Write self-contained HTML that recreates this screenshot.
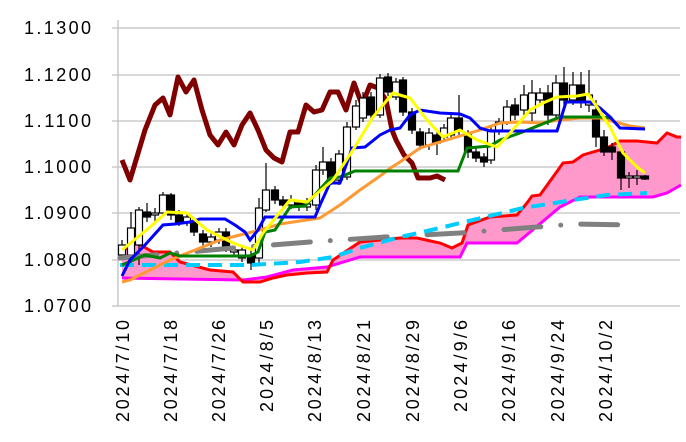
<!DOCTYPE html>
<html><head><meta charset="utf-8"><style>
html,body{margin:0;padding:0;background:#fff;}
svg{display:block;}
text{font-family:"Liberation Sans","Noto Sans CJK JP",sans-serif;fill:#000;}
</style></head><body>
<svg width="686" height="442" viewBox="0 0 686 442" xmlns="http://www.w3.org/2000/svg">
<g stroke="#c0c0c0" stroke-width="1.3">
<line x1="112" y1="28" x2="680" y2="28"/>
<line x1="112" y1="75" x2="680" y2="75"/>
<line x1="112" y1="121" x2="680" y2="121"/>
<line x1="112" y1="167" x2="680" y2="167"/>
<line x1="112" y1="213" x2="680" y2="213"/>
<line x1="112" y1="260" x2="680" y2="260"/>
<line x1="112" y1="306" x2="680" y2="306"/>
<line x1="118" y1="20" x2="118" y2="306"/>
</g>
<g font-size="18" text-anchor="end">
<text x="91" y="34" textLength="67">1.1300</text>
<text x="91" y="81" textLength="67">1.1200</text>
<text x="91" y="127" textLength="67">1.1100</text>
<text x="91" y="173" textLength="67">1.1000</text>
<text x="91" y="219" textLength="67">1.0900</text>
<text x="91" y="266" textLength="67">1.0800</text>
<text x="91" y="312" textLength="67">1.0700</text>
</g>
<g font-size="18" text-anchor="end">
<text transform="translate(129,320) rotate(-90)" textLength="102">2024/7/10</text>
<text transform="translate(177,320) rotate(-90)" textLength="102">2024/7/18</text>
<text transform="translate(225,320) rotate(-90)" textLength="102">2024/7/26</text>
<text transform="translate(273,320) rotate(-90)" textLength="92">2024/8/5</text>
<text transform="translate(321,320) rotate(-90)" textLength="102">2024/8/13</text>
<text transform="translate(370,320) rotate(-90)" textLength="102">2024/8/21</text>
<text transform="translate(419,320) rotate(-90)" textLength="102">2024/8/29</text>
<text transform="translate(467,320) rotate(-90)" textLength="92">2024/9/6</text>
<text transform="translate(515,320) rotate(-90)" textLength="102">2024/9/16</text>
<text transform="translate(564,320) rotate(-90)" textLength="102">2024/9/24</text>
<text transform="translate(612,320) rotate(-90)" textLength="102">2024/10/2</text>
</g>
<!-- cloud -->
<polygon fill="#ff99cc" points="122,250 137,243 153,252 170,252 180,262 210,270 233,272 243,282 260,282 273,278 287,275 307,273 327,272 333,260 360,242 400,238 417,238 440,243 452,248 462,243 468,225 490,217 517,215 527,203 532,196 540,195 553,177 563,163 573,162 583,155 593,152 607,148 620,141 637,141 657,143 667,133 677,137 681,137 681,185 667,193 653,197 580,197 560,207 517,243 467,243 460,257 400,257 360,257 327,267 293,270 267,277 243,280 122,278"/>
<polyline fill="none" stroke="#ff00ff" stroke-width="3" points="122,278 243,280 267,277 293,270 327,267 360,257 400,257 460,257 467,243 517,243 560,207 580,197 653,197 667,193 681,185"/>
<polyline fill="none" stroke="#ff0000" stroke-width="3" points="122,250 137,243 153,252 170,252 180,262 210,270 233,272 243,282 260,282 273,278 287,275 307,273 327,272 333,260 360,242 400,238 417,238 440,243 452,248 462,243 468,225 490,217 517,215 527,203 532,196 540,195 553,177 563,163 573,162 583,155 593,152 607,148 620,141 637,141 657,143 667,133 677,137 681,137"/>
<!-- chikou -->
<polyline fill="none" stroke="#800000" stroke-width="5" stroke-linejoin="round" points="122,160 130,180 145,130 155,105 163,98 170,115 178,77 186,92 194,80 202,110 210,135 218,145 226,132 234,145 242,125 250,113 258,130 266,150 274,158 282,162 290,132 298,132 306,105 314,112 322,110 330,92 338,92 346,110 354,83 362,105 370,85 378,88 386,100 392,130 396,140 404,155 412,163 418,178 430,178 437,176 445,180"/>
<!-- candles -->
<g stroke="#000" stroke-width="1">
<g id="c"></g>
</g>
<g stroke="#000" stroke-width="1.2">
<line x1="122" y1="240" x2="122" y2="260"/><rect x="118.5" y="245" width="7" height="10" fill="#fff"/>
<line x1="131" y1="212" x2="131" y2="265"/><rect x="127.5" y="228" width="7" height="27" fill="#fff"/>
<line x1="139" y1="207" x2="139" y2="265"/><rect x="135.5" y="210" width="7" height="35" fill="#fff"/>
<line x1="147" y1="203" x2="147" y2="222"/><rect x="143.5" y="212" width="7" height="5" fill="#000"/>
<line x1="155" y1="208" x2="155" y2="222"/><rect x="151.5" y="213" width="7" height="2" fill="#fff"/>
<line x1="163" y1="192" x2="163" y2="217"/><rect x="159.5" y="195" width="7" height="18" fill="#fff"/>
<line x1="171" y1="193" x2="171" y2="220"/><rect x="167.5" y="195" width="7" height="20" fill="#000"/>
<line x1="179" y1="210" x2="179" y2="226"/><rect x="175.5" y="215" width="7" height="7" fill="#000"/>
<line x1="187" y1="213" x2="187" y2="226"/><rect x="183.5" y="217" width="7" height="5" fill="#fff"/>
<line x1="194" y1="218" x2="194" y2="236"/><rect x="190.5" y="222" width="7" height="10" fill="#000"/>
<line x1="203" y1="230" x2="203" y2="246"/><rect x="199.5" y="234" width="7" height="8" fill="#000"/>
<line x1="211" y1="232" x2="211" y2="247"/><rect x="207.5" y="237" width="7" height="5" fill="#fff"/>
<line x1="219" y1="228" x2="219" y2="244"/><rect x="215.5" y="232" width="7" height="8" fill="#fff"/>
<line x1="226" y1="228" x2="226" y2="252"/><rect x="222.5" y="232" width="7" height="16" fill="#000"/>
<line x1="234" y1="246" x2="234" y2="256"/><rect x="230.5" y="250" width="7" height="2" fill="#fff"/>
<line x1="242" y1="246" x2="242" y2="262"/><rect x="238.5" y="250" width="7" height="8" fill="#fff"/>
<line x1="251" y1="248" x2="251" y2="270"/><rect x="247.5" y="255" width="7" height="8" fill="#000"/>
<line x1="259" y1="198" x2="259" y2="265"/><rect x="255.5" y="208" width="7" height="50" fill="#fff"/>
<line x1="266" y1="163" x2="266" y2="212"/><rect x="262.5" y="190" width="7" height="20" fill="#fff"/>
<line x1="275" y1="186" x2="275" y2="204"/><rect x="271.5" y="190" width="7" height="10" fill="#000"/>
<line x1="283" y1="196" x2="283" y2="209"/><rect x="279.5" y="200" width="7" height="5" fill="#000"/>
<line x1="291" y1="195" x2="291" y2="209"/><rect x="287.5" y="200" width="7" height="5" fill="#fff"/>
<line x1="299" y1="200" x2="299" y2="211"/><rect x="295.5" y="203" width="7" height="3" fill="#000"/>
<line x1="307" y1="198" x2="307" y2="211"/><rect x="303.5" y="204" width="7" height="3" fill="#fff"/>
<line x1="316" y1="165" x2="316" y2="210"/><rect x="312.5" y="170" width="7" height="35" fill="#fff"/>
<line x1="323" y1="147" x2="323" y2="175"/><rect x="319.5" y="162" width="7" height="8" fill="#fff"/>
<line x1="331" y1="158" x2="331" y2="185"/><rect x="327.5" y="162" width="7" height="19" fill="#000"/>
<line x1="339" y1="150" x2="339" y2="185"/><rect x="335.5" y="154" width="7" height="26" fill="#fff"/>
<line x1="347" y1="122" x2="347" y2="180"/><rect x="343.5" y="127" width="7" height="50" fill="#fff"/>
<line x1="356" y1="100" x2="356" y2="130"/><rect x="352.5" y="106" width="7" height="21" fill="#fff"/>
<line x1="363" y1="92" x2="363" y2="122"/><rect x="359.5" y="98" width="7" height="20" fill="#fff"/>
<line x1="371" y1="92" x2="371" y2="118"/><rect x="367.5" y="97" width="7" height="18" fill="#000"/>
<line x1="380" y1="74" x2="380" y2="118"/><rect x="376.5" y="78" width="7" height="37" fill="#fff"/>
<line x1="388" y1="73" x2="388" y2="96"/><rect x="384.5" y="77" width="7" height="15" fill="#000"/>
<line x1="396" y1="78" x2="396" y2="100"/><rect x="392.5" y="82" width="7" height="15" fill="#fff"/>
<line x1="403" y1="77" x2="403" y2="116"/><rect x="399.5" y="80" width="7" height="32" fill="#000"/>
<line x1="412" y1="108" x2="412" y2="134"/><rect x="408.5" y="112" width="7" height="18" fill="#000"/>
<line x1="420" y1="128" x2="420" y2="150"/><rect x="416.5" y="132" width="7" height="13" fill="#000"/>
<line x1="429" y1="128" x2="429" y2="150"/><rect x="425.5" y="133" width="7" height="12" fill="#fff"/>
<line x1="437" y1="130" x2="437" y2="155"/><rect x="433.5" y="135" width="7" height="8" fill="#000"/>
<line x1="444" y1="124" x2="444" y2="142"/><rect x="440.5" y="128" width="7" height="9" fill="#fff"/>
<line x1="451" y1="112" x2="451" y2="140"/><rect x="447.5" y="118" width="7" height="17" fill="#fff"/>
<line x1="459" y1="95" x2="459" y2="135"/><rect x="455.5" y="118" width="7" height="12" fill="#000"/>
<line x1="468" y1="130" x2="468" y2="158"/><rect x="464.5" y="135" width="7" height="17" fill="#000"/>
<line x1="476" y1="148" x2="476" y2="162"/><rect x="472.5" y="152" width="7" height="6" fill="#000"/>
<line x1="484" y1="153" x2="484" y2="167"/><rect x="480.5" y="157" width="7" height="5" fill="#000"/>
<line x1="491" y1="125" x2="491" y2="164"/><rect x="487.5" y="130" width="7" height="30" fill="#fff"/>
<line x1="499" y1="118" x2="499" y2="135"/><rect x="495.5" y="122" width="7" height="8" fill="#fff"/>
<line x1="507" y1="100" x2="507" y2="125"/><rect x="503.5" y="107" width="7" height="15" fill="#fff"/>
<line x1="515" y1="98" x2="515" y2="120"/><rect x="511.5" y="105" width="7" height="10" fill="#000"/>
<line x1="524" y1="85" x2="524" y2="115"/><rect x="520.5" y="95" width="7" height="15" fill="#fff"/>
<line x1="532" y1="80" x2="532" y2="122"/><rect x="528.5" y="93" width="7" height="20" fill="#fff"/>
<line x1="540" y1="88" x2="540" y2="103"/><rect x="536.5" y="93" width="7" height="7" fill="#fff"/>
<line x1="548" y1="85" x2="548" y2="125"/><rect x="544.5" y="93" width="7" height="22" fill="#000"/>
<line x1="556" y1="75" x2="556" y2="120"/><rect x="552.5" y="83" width="7" height="32" fill="#fff"/>
<line x1="564" y1="67" x2="564" y2="105"/><rect x="560.5" y="83" width="7" height="17" fill="#000"/>
<line x1="573" y1="72" x2="573" y2="105"/><rect x="569.5" y="85" width="7" height="15" fill="#fff"/>
<line x1="581" y1="72" x2="581" y2="108"/><rect x="577.5" y="85" width="7" height="15" fill="#000"/>
<line x1="589" y1="70" x2="589" y2="112"/><rect x="585.5" y="95" width="7" height="10" fill="#fff"/>
<line x1="596" y1="100" x2="596" y2="147"/><rect x="592.5" y="110" width="7" height="27" fill="#000"/>
<line x1="604" y1="130" x2="604" y2="156"/><rect x="600.5" y="137" width="7" height="15" fill="#000"/>
<line x1="612" y1="143" x2="612" y2="160"/><rect x="608.5" y="147" width="7" height="5" fill="#000"/>
<line x1="621" y1="148" x2="621" y2="190"/><rect x="617.5" y="152" width="7" height="26" fill="#000"/>
<line x1="629" y1="172" x2="629" y2="188"/><rect x="625.5" y="176" width="7" height="2" fill="#fff"/>
<line x1="637" y1="170" x2="637" y2="185"/><rect x="633.5" y="176" width="7" height="2" fill="#fff"/>
<line x1="645" y1="175" x2="645" y2="180"/><rect x="641.5" y="176" width="7" height="3" fill="#000"/>
</g>
<!-- gray lagging dash-dot -->
<polyline fill="none" stroke="#808080" stroke-width="5" stroke-linecap="round" stroke-dasharray="37 20 0 20" points="120,258 233,248 310,242 385,237 460,233 537,227 575,224 632,225"/>
<!-- cyan dashed -->
<polyline fill="none" stroke="#00ccff" stroke-width="4" stroke-dasharray="14 8" points="120,265 250,265 300,262 333,257 360,248 400,237 423,232 473,220 523,208 573,200 607,195 647,193"/>
<!-- orange -->
<polyline fill="none" stroke="#ff9933" stroke-width="3" stroke-linejoin="round" points="122,282 130,280 150,270 170,260 190,252 200,248 220,240 240,235 260,230 280,224 300,221 320,218 340,205 360,190 380,176 392,167 400,162 420,148 440,142 460,136 480,130 500,123 520,122 540,123 560,120 580,118 600,118 615,122 630,126 645,128"/>
<!-- green -->
<polyline fill="none" stroke="#008000" stroke-width="3" points="122,265 145,255 160,258 170,253 180,256 250,256 258,252 265,232 275,230 290,207 305,206 330,178 340,177 355,171 458,171 467,148 490,146 500,140 520,133 540,125 560,117 600,117 612,118"/>
<!-- blue -->
<polyline fill="none" stroke="#0000ff" stroke-width="3" points="122,276 130,260 145,245 163,225 175,224 190,222 200,219 225,219 235,225 245,232 250,240 258,230 265,217 315,217 320,205 330,183 340,183 352,148 365,147 380,135 390,130 400,128 410,115 420,110 440,113 460,114 470,118 480,128 490,131 515,131 520,131 557,131 562,115 566,102 590,102 600,108 610,117 620,128 645,129"/>
<!-- yellow -->
<polyline fill="none" stroke="#ffff00" stroke-width="3" stroke-linejoin="round" points="122,250 150,227 167,212 187,213 207,230 233,243 253,250 263,233 290,200 307,202 333,180 353,150 373,117 393,93 410,98 427,120 443,137 460,130 477,140 497,147 510,133 530,110 543,103 557,97 577,96 588,94 597,107 610,127 623,153 637,167 645,173"/>
</svg>
</body></html>
